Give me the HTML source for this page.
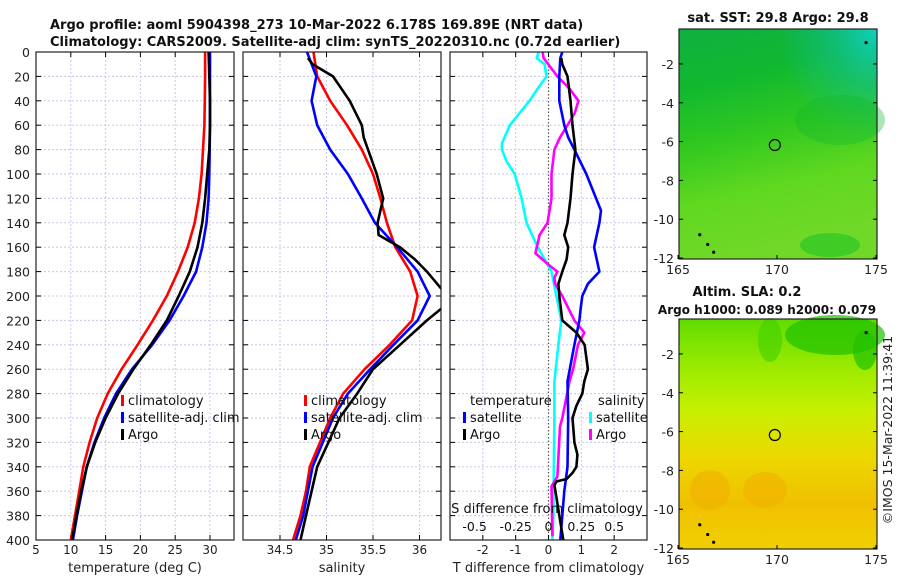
<!DOCTYPE html>
<html><head><meta charset="utf-8"><style>
body{margin:0;background:#fff;}
svg{display:block;font-family:"DejaVu Sans","Liberation Sans",sans-serif;}
</style></head><body>
<svg id="c" width="900" height="580" viewBox="0 0 900 580" xmlns="http://www.w3.org/2000/svg">
<defs>
<linearGradient id="sstG" x1="0" y1="0" x2="0.2" y2="1">
<stop offset="0" stop-color="#10b040"/><stop offset="0.25" stop-color="#10b830"/><stop offset="0.5" stop-color="#30c820"/><stop offset="0.75" stop-color="#60d820"/><stop offset="1" stop-color="#70d828"/></linearGradient>
<radialGradient id="sstC" cx="1" cy="0" r="0.5"><stop offset="0" stop-color="#10d0c0"/><stop offset="0.5" stop-color="#10c0a0" stop-opacity="0.5"/><stop offset="1" stop-color="#10c0a0" stop-opacity="0"/></radialGradient>
<linearGradient id="slaG" x1="0" y1="0" x2="0" y2="1">
<stop offset="0" stop-color="#60dc00"/><stop offset="0.2" stop-color="#98ea00"/><stop offset="0.4" stop-color="#c8f000"/><stop offset="0.6" stop-color="#ecd800"/><stop offset="0.8" stop-color="#f0c000"/><stop offset="1" stop-color="#f0d000"/></linearGradient>
</defs>
</svg>
<script>
const depths=[0,20,40,60,80,100,120,140,160,180,200,220,240,260,280,300,320,340,360,380,400];
const tArgo=[29.8,29.9,30,30,29.9,29.6,29.3,28.9,28.2,27.1,25.5,23.8,21.5,19,16.8,15,13.5,12.3,11.5,10.8,10.2];
const tClim=[29.3,29.3,29.25,29.2,29.0,28.8,28.4,27.8,26.8,25.4,23.8,21.8,19.6,17.3,15.3,13.8,12.7,11.8,11.2,10.6,10.0];
const tSat=[30,30,30,30,29.95,29.9,29.8,29.5,28.9,28,26.2,24.2,21.7,18.8,16.5,14.8,13.4,12.3,11.6,10.9,10.3];
const sClim=[34.86,34.9,35.04,35.22,35.38,35.5,35.58,35.65,35.74,35.9,35.98,35.92,35.68,35.41,35.18,35.04,34.93,34.82,34.78,34.72,34.64];
const sSat=[34.79,34.89,34.84,34.9,35.04,35.23,35.38,35.52,35.76,35.98,36.11,35.98,35.72,35.47,35.23,35.07,34.96,34.85,34.8,34.75,34.67];
const sArgoDepth=[5,10,20,40,60,70,100,120,140,150,160,170,180,200,210,220,240,260,280,300,320,340,360,380,400];
const sArgo=[34.8,34.85,35.07,35.25,35.38,35.4,35.54,35.61,35.55,35.56,35.79,35.95,36.08,36.3,36.24,36.08,35.79,35.5,35.33,35.14,35.02,34.9,34.84,34.78,34.72];
const dSatTDepth=[0,5,20,40,60,70,80,100,120,130,140,160,180,190,200,210,220,240,270,300,340,360,380,400];
const dSatT=[0.42,0.36,0.33,0.33,0.48,0.6,0.79,1.15,1.45,1.6,1.55,1.39,1.55,1.2,1.03,0.98,0.94,0.79,0.58,0.6,0.58,0.48,0.42,0.36];
const dArgoTDepth=[5,10,20,40,60,80,100,120,140,150,160,170,180,190,200,220,230,240,260,270,280,290,300,320,330,340,345,350,352,355,370,390,400];
const dArgoT=[0.39,0.42,0.58,0.67,0.73,0.82,0.73,0.67,0.58,0.48,0.6,0.55,0.42,0.3,0.33,0.42,0.85,1.1,1.2,1.09,1.03,0.85,0.73,0.79,0.88,0.85,0.73,0.55,0.25,0.18,0.27,0.39,0.45];
const dSatSDepth=[0,5,10,20,30,40,60,75,80,90,100,120,140,160,180,200,220,240,270,300,340,380,400];
const dSatS=[-0.3,-0.36,-0.12,-0.06,-0.33,-0.58,-1.18,-1.42,-1.42,-1.27,-1.03,-0.82,-0.67,-0.33,0.09,0.24,0.39,0.3,0.18,0.18,0.16,0.15,0.12];
const dArgoSDepth=[0,5,20,30,40,50,60,70,80,100,120,140,150,165,175,180,185,190,200,220,230,240,260,270,300,307,348,356,397];
const dArgoS=[-0.18,-0.15,0.27,0.64,0.91,0.8,0.58,0.35,0.18,0.09,0.09,-0.03,-0.27,-0.4,0.03,0.27,0.18,0.2,0.42,0.79,1.09,0.9,0.75,0.64,0.42,0.35,0.27,0.09,0.12];
const tTicks=[5,10,15,20,25,30];
const sTicks=[34.5,35,35.5,36];
const dTicks=[-2,-1,0,1,2];
const sDiffTicks=["-0.5","-0.25","0","0.25","0.5"];
const latTicks=[-2,-4,-6,-8,-10,-12];
const lonTicks=[165,170,175];

const svg=document.getElementById('c');
const NS='http://www.w3.org/2000/svg';
function mk(tag,attrs,parent,text){const e=document.createElementNS(NS,tag);for(const k in attrs)e.setAttribute(k,attrs[k]);if(text!==undefined)e.textContent=text;(parent||svg).appendChild(e);return e;}
const Y0=52,Y1=540;
const yD=d=>Y0+(d/400)*(Y1-Y0);
const P1={x0:36,x1:234,v0:5,v1:5+(234-36)*25/174};
const P2={x0:243,x1:441,v0:34.5-(280-243)/93,v1:34.5+(441-280)/93};
const P3={x0:450,x1:647,v0:-3,v1:3};
const sx=(P,v)=>P.x0+(v-P.v0)/(P.v1-P.v0)*(P.x1-P.x0);

function panel(P,name,ticks,labels,title,grid0dotted){
  const g=mk('g',{});
  
  
  mk('rect',{x:P.x0,y:Y0,width:P.x1-P.x0,height:Y1-Y0,fill:'#fff'},g);
  for(let d=20;d<400;d+=20){mk('line',{x1:P.x0,x2:P.x1,y1:yD(d),y2:yD(d),stroke:'#c8c8e8','stroke-width':1,'stroke-dasharray':'2,2'},g);}
  ticks.forEach((t,i)=>{const x=sx(P,t);
    if(grid0dotted&&t===0){mk('line',{x1:x,x2:x,y1:Y0,y2:Y1,stroke:'#555','stroke-width':1.2,'stroke-dasharray':'1.5,2'},g);}
    else mk('line',{x1:x,x2:x,y1:Y0,y2:Y1,stroke:'#c8c8e8','stroke-width':1,'stroke-dasharray':'2,2'},g);
    mk('line',{x1:x,x2:x,y1:Y1,y2:Y1-5,stroke:'#000'},g);mk('line',{x1:x,x2:x,y1:Y0,y2:Y0+5,stroke:'#000'},g);
    const tl=mk('text',{x:x,y:Y1+14,'font-size':12,'text-anchor':'middle',fill:'#222'},g,labels[i]);
    
    
  });
  for(let d=0;d<=400;d+=20){mk('line',{x1:P.x0,x2:P.x0+5,y1:yD(d),y2:yD(d),stroke:'#000'},g);mk('line',{x1:P.x1,x2:P.x1-5,y1:yD(d),y2:yD(d),stroke:'#000'},g);}
  const tt=mk('text',{x:(P.x0+P.x1)/2,y:572,'font-size':13,'text-anchor':'middle',fill:'#222'},g,title);
  
  
  return g;
}
function line(P,ds,vs,color,name,g){
  const pts=ds.map((d,i)=>[sx(P,vs[i]),yD(d)]).map(p=>p[0].toFixed(1)+','+p[1].toFixed(1)).join(' ');
  const l=mk('polyline',{points:pts,fill:'none',stroke:color,'stroke-width':2.6,'stroke-linejoin':'round'},g);
  
  
}
function clip(P,id){const cp=mk('clipPath',{id:id});mk('rect',{x:P.x0,y:Y0,width:P.x1-P.x0,height:Y1-Y0},cp);}
function legend(g,x,items){items.forEach((it,i)=>{const y=405+i*17;
  if(it.c) mk('rect',{x:x,y:y-10,width:3,height:11,fill:it.c},g);
  const t=mk('text',{x:x+(it.c?7:0),y:y,'font-size':13,fill:'#111'},g,it.t);
  
  });}

// panel 1
const g1=panel(P1,'temperature-panel',tTicks,tTicks.map(String),'temperature (deg C)');
clip(P1,'c1');const l1=mk('g',{'clip-path':'url(#c1)'},g1);
line(P1,depths,tClim,'#f00','clim-temperature-line',l1);
line(P1,depths,tSat,'#00f','satellite-temperature-line',l1);
line(P1,depths,tArgo,'#000','argo-temperature-line',l1);
legend(g1,121,[{c:'#f00',t:'climatology'},{c:'#00f',t:'satellite-adj. clim'},{c:'#000',t:'Argo'}]);
mk('rect',{x:P1.x0,y:Y0,width:P1.x1-P1.x0,height:Y1-Y0,fill:'none',stroke:'#222','stroke-width':1.2},g1);
for(let d=0;d<=400;d+=20){
  const t=mk('text',{x:30,y:yD(d)+5,'font-size':12.5,'text-anchor':'end',fill:'#222'},g1,String(d));
  
  
}
// panel 2
const g2=panel(P2,'salinity-panel',sTicks,sTicks.map(String),'salinity');
clip(P2,'c2');const l2=mk('g',{'clip-path':'url(#c2)'},g2);
line(P2,depths,sClim,'#f00','clim-salinity-line',l2);
line(P2,depths,sSat,'#00f','satellite-salinity-line',l2);
line(P2,sArgoDepth,sArgo,'#000','argo-salinity-line',l2);
legend(g2,304,[{c:'#f00',t:'climatology'},{c:'#00f',t:'satellite-adj. clim'},{c:'#000',t:'Argo'}]);
mk('rect',{x:P2.x0,y:Y0,width:P2.x1-P2.x0,height:Y1-Y0,fill:'none',stroke:'#222','stroke-width':1.2},g2);
// panel 3
const g3=panel(P3,'difference-panel',dTicks,dTicks.map(String),'T difference from climatology',true);
clip(P3,'c3');const l3=mk('g',{'clip-path':'url(#c3)'},g3);
line(P3,dSatSDepth,dSatS,'#00ffff','satellite-salinity-diff-line',l3);
line(P3,dArgoSDepth,dArgoS,'#ff00ff','argo-salinity-diff-line',l3);
line(P3,dSatTDepth,dSatT,'#0000ff','satellite-temperature-diff-line',l3);
line(P3,dArgoTDepth,dArgoT,'#000','argo-temperature-diff-line',l3);
legend(g3,470,[{t:'temperature'}]);
legend(g3,463,[{t:''},{c:'#00f',t:'satellite'},{c:'#000',t:'Argo'}]);
legend(g3,598,[{t:'salinity'}]);
legend(g3,589,[{t:''},{c:'#00ffff',t:'satellite'},{c:'#ff00ff',t:'Argo'}]);
const st=mk('text',{x:547,y:513,'font-size':13,'text-anchor':'middle',fill:'#111'},g3,'S difference from climatology');


const sdPos=[-2.25,-1,0,1,2];
sDiffTicks.forEach((s,i)=>{const t=mk('text',{x:sx(P3,sdPos[i]),y:531,'font-size':12.5,'text-anchor':'middle',fill:'#111'},g3,s);
  
  });
mk('rect',{x:P3.x0,y:Y0,width:P3.x1-P3.x0,height:Y1-Y0,fill:'none',stroke:'#222','stroke-width':1.2},g3);

// titles
const tl1=mk('text',{x:50,y:29,'font-size':13,'font-weight':'bold',fill:'#111'},svg,'Argo profile: aoml 5904398_273 10-Mar-2022 6.178S 169.89E (NRT data)');


const tl2=mk('text',{x:50,y:46,'font-size':13,'font-weight':'bold',fill:'#111'},svg,'Climatology: CARS2009. Satellite-adj clim: synTS_20220310.nc (0.72d earlier)');



// maps
function map(y0,y1,name,fillFn,title){
  const g=mk('g',{});
  
  
  const x0=679,x1=877;
  fillFn(g,x0,y0,x1,y1);
  const lat=v=>y0+(-v-0.2)/(12.05-0.2)*(y1-y0);
  const lon=v=>x0+(v-165.05)/(175.05-165.05)*(x1-x0);
  mk('circle',{cx:lon(169.89),cy:lat(-6.178),r:5.5,fill:'none',stroke:'#000','stroke-width':1.2},g);
  [[166.1,-10.8],[166.5,-11.3],[166.8,-11.7],[174.5,-0.9]].forEach(p=>mk('circle',{cx:lon(p[0]),cy:lat(p[1]),r:1.6,fill:'#000'},g));
  mk('rect',{x:x0,y:y0,width:x1-x0,height:y1-y0,fill:'none',stroke:'#222','stroke-width':1.2},g);
  latTicks.forEach(v=>{const y=lat(v);mk('line',{x1:x0,x2:x0+4,y1:y,y2:y,stroke:'#000'},g);mk('line',{x1:x1,x2:x1-4,y1:y,y2:y,stroke:'#000'},g);
    const t=mk('text',{x:x0-5,y:y+5,'font-size':12.5,'text-anchor':'end',fill:'#222'},g,String(v));
    
    });
  lonTicks.forEach(v=>{const x=lon(v);
    mk('line',{x1:x,x2:x,y1:y1,y2:y1-4,stroke:'#000'},g);
    const t=mk('text',{x:x,y:y1+15,'font-size':12.5,'text-anchor':'middle',fill:'#222'},g,String(v));
    
    });
  title.forEach(tt=>{const t=mk('text',{x:tt[0],y:tt[1],'font-size':tt[3]||13,'font-weight':'bold','text-anchor':'middle',fill:'#111'},g,tt[2]);
    
    });
}
map(29,259,'sst-map',(g,x0,y0,x1,y1)=>{
  mk('rect',{x:x0,y:y0,width:x1-x0,height:y1-y0,fill:'url(#sstG)'},g);
  mk('rect',{x:x0,y:y0,width:x1-x0,height:y1-y0,fill:'url(#sstC)'},g);
  mk('ellipse',{cx:840,cy:120,rx:45,ry:25,fill:'#10b830',opacity:0.35},g);
  mk('ellipse',{cx:830,cy:245,rx:30,ry:12,fill:'#10c020',opacity:0.5},g);
},[[778,22,'sat. SST: 29.8 Argo: 29.8']]);
map(319,549,'sla-map',(g,x0,y0,x1,y1)=>{
  mk('rect',{x:x0,y:y0,width:x1-x0,height:y1-y0,fill:'url(#slaG)'},g);
  mk('ellipse',{cx:835,cy:335,rx:50,ry:20,fill:'#20c000',opacity:0.7},g);
  mk('ellipse',{cx:865,cy:350,rx:12,ry:20,fill:'#20c000',opacity:0.7},g);
  mk('ellipse',{cx:770,cy:340,rx:12,ry:22,fill:'#40d000',opacity:0.6},g);
  mk('ellipse',{cx:710,cy:490,rx:20,ry:20,fill:'#f0b000',opacity:0.6},g);
  mk('ellipse',{cx:765,cy:490,rx:22,ry:18,fill:'#f0b000',opacity:0.6},g);
},[[747,296,'Altim. SLA: 0.2'],[767,314,'Argo h1000: 0.089 h2000: 0.079',12]]);
const ts=mk('text',{x:892,y:430,'font-size':12.5,'text-anchor':'middle',fill:'#222',transform:'rotate(-90 892 430)'},svg,'©IMOS 15-Mar-2022 11:39:41');


</script>
</body></html>
